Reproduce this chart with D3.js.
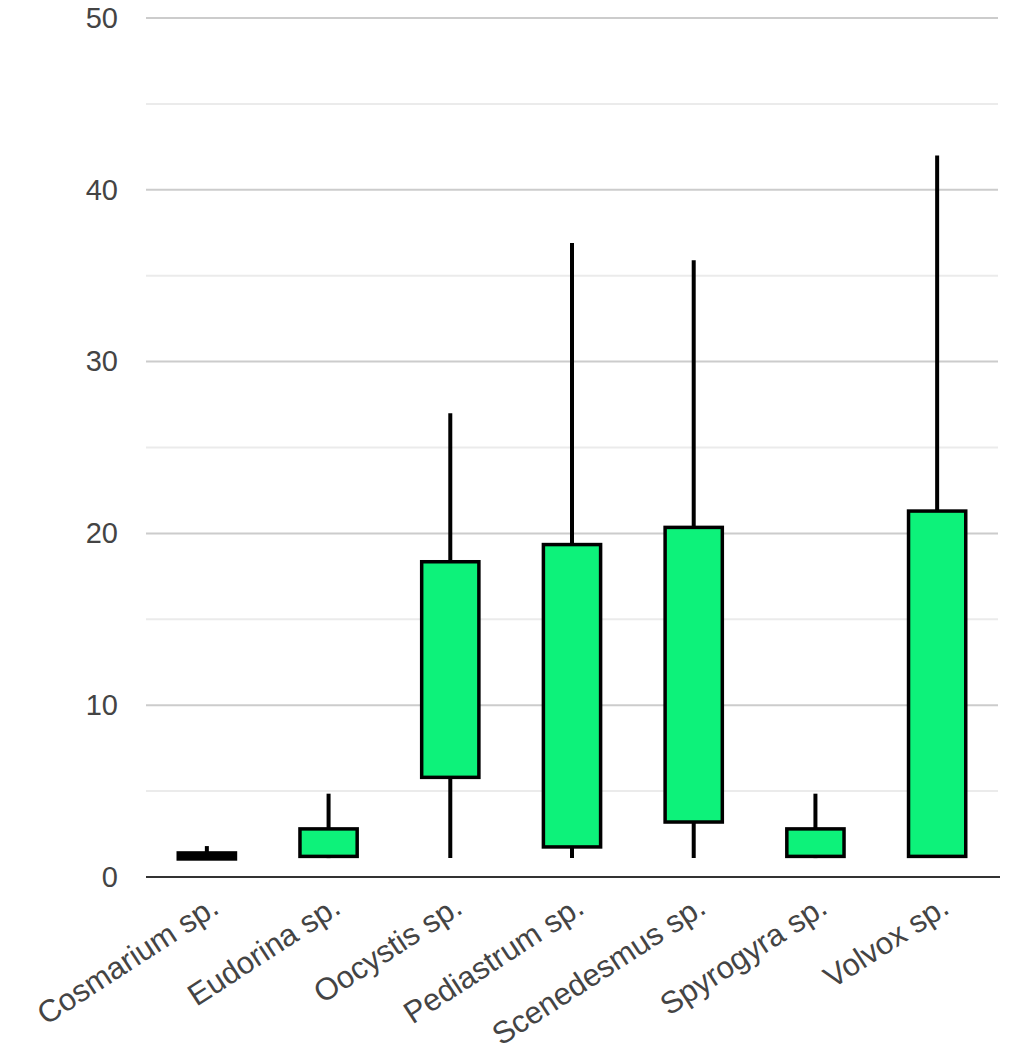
<!DOCTYPE html>
<html>
<head>
<meta charset="utf-8">
<script src="https://cdn.jsdelivr.net/npm/d3@7"></script>
<style>
  body { margin: 0; background: #fff; }
  text { font-family: "Liberation Sans", Arial, sans-serif; }
</style>
</head>
<body>
<div id="chart"></div>
<script>
var categories = ["Cosmarium sp.", "Eudorina sp.", "Oocystis sp.", "Pediastrum sp.", "Scenedesmus sp.", "Spyrogyra sp.", "Volvox sp."];
var lows   = [1.0, 1.1, 1.1, 1.1, 1.1, 1.1, 1.1];
var opens  = [1.4, 1.2, 5.8, 1.75, 3.2, 1.2, 1.2];
var closes = [1.05, 2.8, 18.35, 19.35, 20.35, 2.8, 21.3];
var highs  = [1.8, 4.85, 27.0, 36.9, 35.9, 4.85, 42.0];
var yTicks = [0, 10, 20, 30, 40, 50];
var yMinor = [5, 15, 25, 35, 45];

var W = 1016, H = 1063;
var margin = {top: 18, right: 18, bottom: 186, left: 146},
    width = W - margin.left - margin.right,
    height = H - margin.top - margin.bottom;

var svg = d3.select("#chart").append("svg")
    .attr("width", W)
    .attr("height", H)
    .append("g")
    .attr("transform", "translate(" + margin.left + "," + margin.top + ")");

var x = d3.scaleBand()
    .domain(categories)
    .range([0, width]);

var y = d3.scaleLinear()
    .domain([0, 50])
    .range([height, 0]);

var data = categories.map(function(c, i) {
    return {name: c, low: lows[i], open: opens[i], close: closes[i], high: highs[i]};
});

// minor grid
svg.selectAll(".minor")
    .data(yMinor)
    .enter().append("line")
    .attr("class", "minor")
    .attr("x1", 0).attr("x2", width)
    .attr("y1", function(d) { return y(d); })
    .attr("y2", function(d) { return y(d); })
    .style("stroke", "#ebebeb")
    .style("stroke-width", 2);

// major grid
svg.selectAll(".major")
    .data(yTicks.filter(function(d) { return d > 0; }))
    .enter().append("line")
    .attr("class", "major")
    .attr("x1", 0).attr("x2", width)
    .attr("y1", function(d) { return y(d); })
    .attr("y2", function(d) { return y(d); })
    .style("stroke", "#cccccc")
    .style("stroke-width", 2);

var yAxis = d3.axisLeft(y).tickValues(yTicks).tickSize(0).tickPadding(28);
var gy = svg.append("g").attr("class", "y axis").call(yAxis);
gy.select(".domain").remove();
gy.selectAll("text")
    .style("font-size", "29px")
    .style("fill", "#444");

var candles = svg.selectAll(".candle")
    .data(data)
    .enter().append("g")
    .attr("class", "candle")
    .attr("transform", function(d) { return "translate(" + (x(d.name) + x.bandwidth() / 2) + ",0)"; });

candles.append("line")
    .attr("y1", function(d) { return y(d.low); })
    .attr("y2", function(d) { return y(d.high); })
    .style("stroke", "#000")
    .style("stroke-width", 4);

var boxW = x.bandwidth() * 0.47;
candles.append("rect")
    .attr("x", -boxW / 2)
    .attr("width", boxW)
    .attr("y", function(d) { return y(Math.max(d.open, d.close)); })
    .attr("height", function(d) { return Math.abs(y(d.open) - y(d.close)); })
    .style("fill", function(d) { return d.open > d.close ? "#000" : "#0df27a"; })
    .style("stroke", "#000")
    .style("stroke-width", 3.5);

// baseline
svg.append("line")
    .attr("x1", 0).attr("x2", width + 2)
    .attr("y1", y(0)).attr("y2", y(0))
    .style("stroke", "#333")
    .style("stroke-width", 2);

var xAxis = d3.axisBottom(x).tickSize(0);
var gx = svg.append("g")
    .attr("class", "x axis")
    .attr("transform", "translate(0," + (height + 26) + ")")
    .call(xAxis);
gx.select(".domain").remove();
gx.selectAll("text")
    .style("font-size", "31px")
    .style("fill", "#444")
    .style("text-anchor", "end")
    .attr("dy", "0.35em")
    .attr("y", 0)
    .attr("transform", "translate(8,0) rotate(-33)");
</script>
</body>
</html>
